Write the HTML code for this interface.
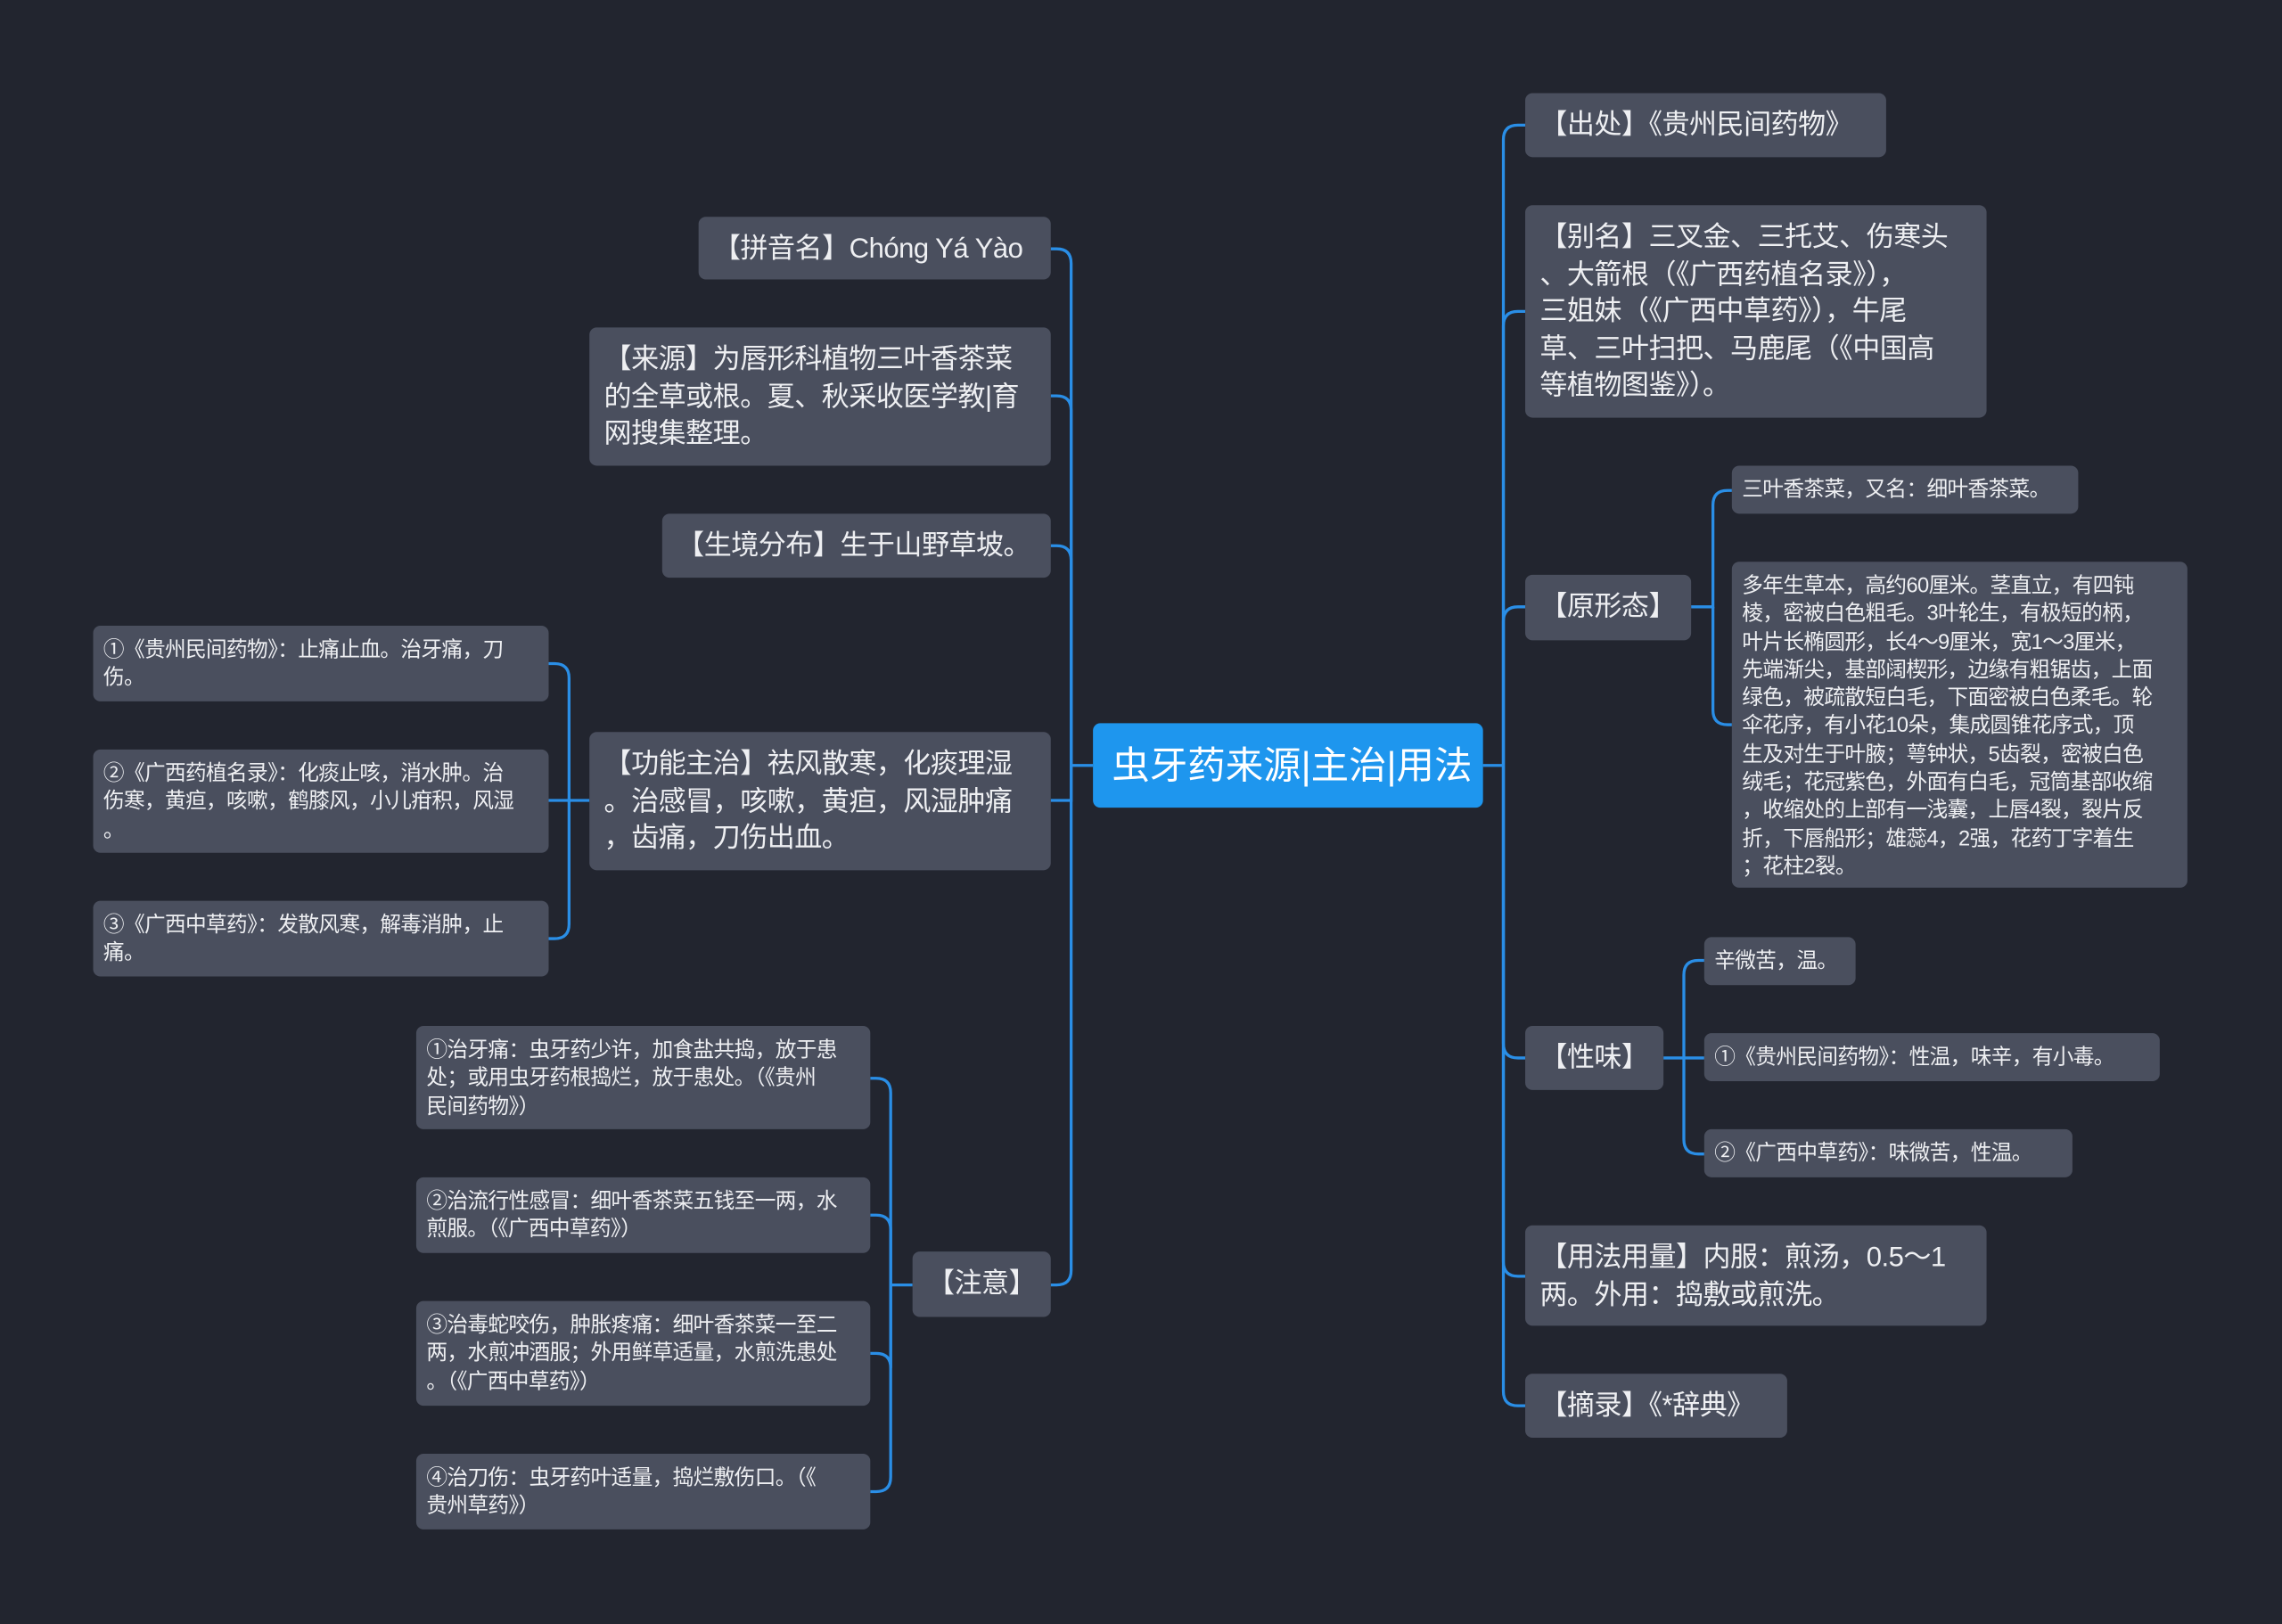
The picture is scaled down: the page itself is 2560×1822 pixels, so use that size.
<!DOCTYPE html>
<html><head><meta charset="utf-8"><style>
html,body{margin:0;padding:0;background:#22252f;}
#wrap{position:relative;width:1568px;height:1116px;transform:scale(1.63265);transform-origin:0 0;overflow:hidden;background:#22252f;font-family:"Liberation Sans","Noto Sans CJK SC",sans-serif;}
.n{position:absolute;background:#4a4f5e;color:#eeeff2;border-radius:5px;box-sizing:border-box;padding:10px 10px 6px;font-size:19px;line-height:25.5px;white-space:nowrap;letter-spacing:-0.3px;}
.s{font-size:14.5px;line-height:19.3px;padding:8px 7px 5px;letter-spacing:-0.4px;}
.r{background:#1e96ee;color:#fff;font-size:26px;line-height:58px;padding:0 13px;letter-spacing:0;}
svg{position:absolute;left:0;top:0;}
</style></head><body><div id="wrap">
<svg width="1568" height="1116" fill="none" stroke="#2a8ee6" stroke-width="2">
<path d="M751 526H736"/>
<path d="M736 526V181Q736 171 726 171H722"/>
<path d="M736 526V282Q736 272 726 272H722"/>
<path d="M736 526V385Q736 375 726 375H722"/>
<path d="M736 526V550H722"/>
<path d="M736 526V873Q736 883 726 883H722"/>
<path d="M405 550H391V466Q391 456 381 456H377"/>
<path d="M391 550H377"/>
<path d="M391 550V635Q391 645 381 645H377"/>
<path d="M627 883H612V751Q612 741 602 741H598"/>
<path d="M612 883V845Q612 835 602 835H598"/>
<path d="M612 883V940Q612 930 602 930H598"/>
<path d="M612 883V1015Q612 1025 602 1025H598"/>
<path d="M1019 526H1033"/>
<path d="M1033 526V96Q1033 86 1043 86H1048"/>
<path d="M1033 526V224Q1033 214 1043 214H1048"/>
<path d="M1033 526V427Q1033 417 1043 417H1048"/>
<path d="M1033 526V717Q1033 727 1043 727H1048"/>
<path d="M1033 526V867Q1033 877 1043 877H1048"/>
<path d="M1033 526V956Q1033 966 1043 966H1048"/>
<path d="M1162 417H1177V347Q1177 337 1187 337H1190"/>
<path d="M1177 417V488Q1177 498 1187 498H1190"/>
<path d="M1143 727H1157V670Q1157 660 1167 660H1171"/>
<path d="M1157 727H1171"/>
<path d="M1157 727V783Q1157 793 1167 793H1171"/>
</svg>
<div class="n r" style="left:751px;top:497px;width:268px;height:58px;">虫牙药来源|主治|用法</div>
<div class="n" style="left:480px;top:149px;width:242px;height:43px;">【拼音名】Chóng Yá Yào</div>
<div class="n" style="left:405px;top:225px;width:317px;height:95px;">【来源】为唇形科植物三叶香茶菜<br>的全草或根。夏、秋采收医学教|育<br>网搜集整理。</div>
<div class="n" style="left:455px;top:353px;width:267px;height:44px;">【生境分布】生于山野草坡。</div>
<div class="n" style="left:405px;top:503px;width:317px;height:95px;">【功能主治】祛风散寒，化痰理湿<br>。治感冒，咳嗽，黄疸，风湿肿痛<br>，齿痛，刀伤出血。</div>
<div class="n" style="left:627px;top:860px;width:95px;height:45px;">【注意】</div>
<div class="n s" style="left:64px;top:430px;width:313px;height:52px;">①《贵州民间药物》：止痛止血。治牙痛，刀<br>伤。</div>
<div class="n s" style="left:64px;top:515px;width:313px;height:71px;">②《广西药植名录》：化痰止咳，消水肿。治<br>伤寒，黄疸，咳嗽，鹤膝风，小儿疳积，风湿<br>。</div>
<div class="n s" style="left:64px;top:619px;width:313px;height:52px;">③《广西中草药》：发散风寒，解毒消肿，止<br>痛。</div>
<div class="n s" style="left:286px;top:705px;width:312px;height:71px;">①治牙痛：虫牙药少许，加食盐共捣，放于患<br>处；或用虫牙药根捣烂，放于患处。（《贵州<br>民间药物》）</div>
<div class="n s" style="left:286px;top:809px;width:312px;height:52px;">②治流行性感冒：细叶香茶菜五钱至一两，水<br>煎服。（《广西中草药》）</div>
<div class="n s" style="left:286px;top:894px;width:312px;height:72px;">③治毒蛇咬伤，肿胀疼痛：细叶香茶菜一至二<br>两，水煎冲酒服；外用鲜草适量，水煎洗患处<br>。（《广西中草药》）</div>
<div class="n s" style="left:286px;top:999px;width:312px;height:52px;">④治刀伤：虫牙药叶适量，捣烂敷伤口。（《<br>贵州草药》）</div>
<div class="n" style="left:1048px;top:64px;width:248px;height:44px;">【出处】《贵州民间药物》</div>
<div class="n" style="left:1048px;top:141px;width:317px;height:146px;">【别名】三叉金、三托艾、伤寒头<br>、大箭根（《广西药植名录》），<br>三姐妹（《广西中草药》），牛尾<br>草、三叶扫把、马鹿尾（《中国高<br>等植物图鉴》）。</div>
<div class="n" style="left:1048px;top:395px;width:114px;height:45px;">【原形态】</div>
<div class="n s" style="left:1190px;top:320px;width:238px;height:33px;">三叶香茶菜，又名：细叶香茶菜。</div>
<div class="n s" style="left:1190px;top:386px;width:313px;height:224px;">多年生草本，高约60厘米。茎直立，有四钝<br>棱，密被白色粗毛。3叶轮生，有极短的柄，<br>叶片长椭圆形，长4～9厘米，宽1～3厘米，<br>先端渐尖，基部阔楔形，边缘有粗锯齿，上面<br>绿色，被疏散短白毛，下面密被白色柔毛。轮<br>伞花序，有小花10朵，集成圆锥花序式，顶<br>生及对生于叶腋；萼钟状，5齿裂，密被白色<br>绒毛；花冠紫色，外面有白毛，冠筒基部收缩<br>，收缩处的上部有一浅囊，上唇4裂，裂片反<br>折，下唇船形；雄蕊4，2强，花药丁字着生<br>；花柱2裂。</div>
<div class="n" style="left:1048px;top:705px;width:95px;height:44px;">【性味】</div>
<div class="n s" style="left:1171px;top:644px;width:104px;height:33px;">辛微苦，温。</div>
<div class="n s" style="left:1171px;top:710px;width:313px;height:33px;">①《贵州民间药物》：性温，味辛，有小毒。</div>
<div class="n s" style="left:1171px;top:776px;width:253px;height:33px;">②《广西中草药》：味微苦，性温。</div>
<div class="n" style="left:1048px;top:842px;width:317px;height:69px;">【用法用量】内服：煎汤，0.5～1<br>两。外用：捣敷或煎洗。</div>
<div class="n" style="left:1048px;top:944px;width:180px;height:44px;">【摘录】《*辞典》</div>
</div></body></html>
